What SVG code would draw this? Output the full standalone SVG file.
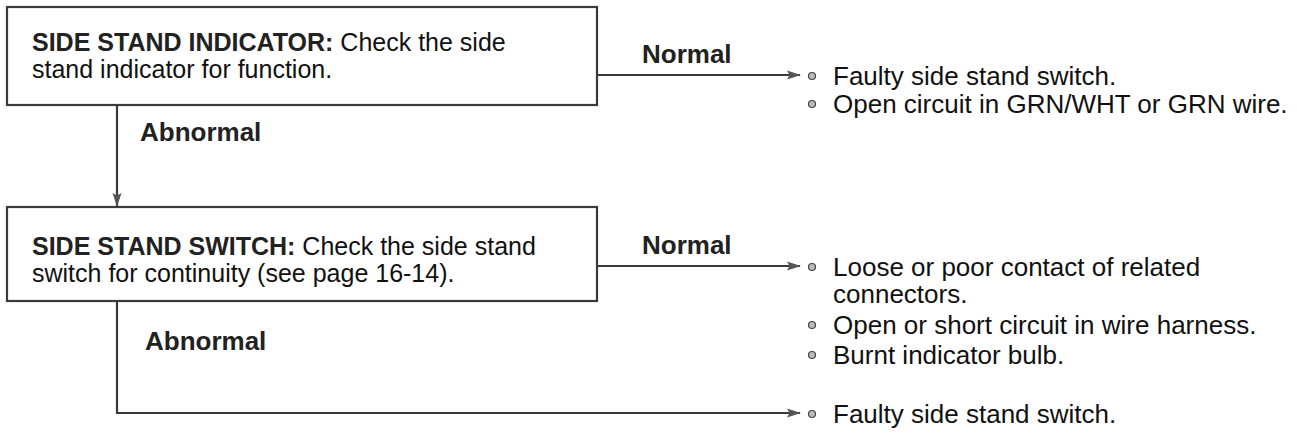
<svg xmlns="http://www.w3.org/2000/svg" width="1297" height="437" viewBox="0 0 1297 437">
<style>
.box{fill:#fff;stroke:#3a3a3a;stroke-width:2.2}
.ln{fill:none;stroke:#3a3a3a;stroke-width:2.2}
.t{font-family:"Liberation Sans",Arial,sans-serif;font-size:26px;fill:#111}
.bt{font-size:25px}
.b{font-weight:bold;fill:#222}
.dot{fill:#bbb;stroke:#444;stroke-width:1.2}
</style>
<defs>
<marker id="ah" markerWidth="14" markerHeight="10" refX="13" refY="5" orient="auto" markerUnits="userSpaceOnUse">
<path d="M0,0.5 L14,5 L0,9.5 L2.5,5 Z" fill="#555"/>
</marker>
</defs>
<rect width="1297" height="437" fill="#fff"/>
<g id="connectors">
<path class="ln" d="M597,75 H800" marker-end="url(#ah)"/>
<path class="ln" d="M117,105 V206" marker-end="url(#ah)"/>
<path class="ln" d="M597,266 H800" marker-end="url(#ah)"/>
<path class="ln" d="M117,301 V413 H800" marker-end="url(#ah)"/>
<text class="t b" x="642" y="63">Normal</text>
<text class="t b" x="140" y="141">Abnormal</text>
<text class="t b" x="642" y="254">Normal</text>
<text class="t b" x="145" y="350">Abnormal</text>
</g>
<g id="node1">
<rect class="box" x="7" y="7" width="590" height="98"/>
<text class="t bt" x="32" y="51"><tspan class="b">SIDE STAND INDICATOR:</tspan> Check the side</text>
<text class="t bt" x="32" y="78">stand indicator for function.</text>
</g>
<g id="node2">
<rect class="box" x="7" y="207" width="590" height="94"/>
<text class="t bt" x="32" y="255"><tspan class="b">SIDE STAND SWITCH:</tspan> Check the side stand</text>
<text class="t bt" x="32" y="282">switch for continuity (see page 16-14).</text>
</g>
<g id="result1">
<circle class="dot" cx="812" cy="76" r="3.5"/>
<text class="t" x="833" y="85">Faulty side stand switch.</text>
<circle class="dot" cx="812" cy="104" r="3.5"/>
<text class="t" x="833" y="113">Open circuit in GRN/WHT or GRN wire.</text>
</g>
<g id="result2">
<circle class="dot" cx="812" cy="267" r="3.5"/>
<text class="t" x="833" y="276">Loose or poor contact of related</text>
<text class="t" x="833" y="303">connectors.</text>
<circle class="dot" cx="812" cy="325" r="3.5"/>
<text class="t" x="833" y="334">Open or short circuit in wire harness.</text>
<circle class="dot" cx="812" cy="355" r="3.5"/>
<text class="t" x="833" y="364">Burnt indicator bulb.</text>
</g>
<g id="result3">
<circle class="dot" cx="812" cy="414" r="3.5"/>
<text class="t" x="833" y="423">Faulty side stand switch.</text>
</g>
</svg>
